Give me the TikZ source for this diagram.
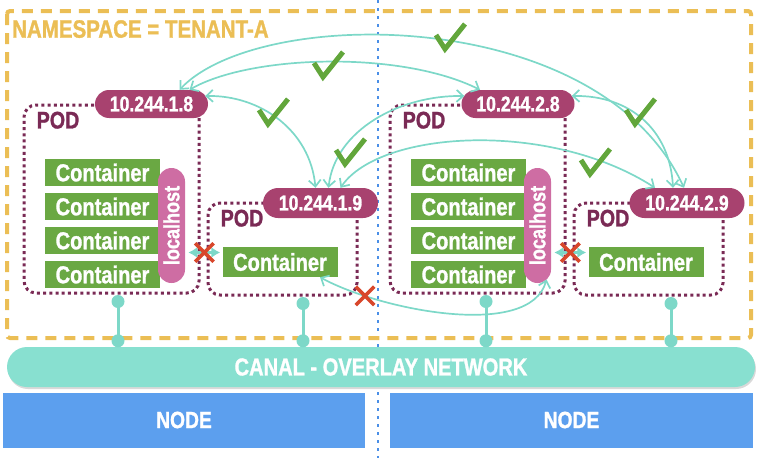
\documentclass[tikz,border=0pt]{standalone}
\usepackage{fontspec}
\setmainfont{Liberation Sans}[FakeStretch=0.82, BoldFeatures={FakeBold=1.2}]
\usetikzlibrary{arrows.meta,shapes.misc,shadows}

\definecolor{nsyellow}{HTML}{EBBE55}
\definecolor{ipplum}{HTML}{A8426F}
\definecolor{podplum}{HTML}{7A2A55}
\definecolor{boxgreen}{HTML}{6AA843}
\definecolor{lhpink}{HTML}{CE6DA3}
\definecolor{canalteal}{HTML}{88E0D0}
\definecolor{arrteal}{HTML}{7DD8C8}
\definecolor{hostblue}{HTML}{5C9FEE}
\definecolor{xred}{HTML}{D8472B}
\definecolor{tickgreen}{HTML}{62A63B}
\definecolor{divblue}{HTML}{4A8FE7}

\newcommand{\bigfont}[1]{\bfseries\fontsize{#1}{#1}\selectfont}

\tikzset{
  ip/.style={rectangle, rounded corners=14pt, fill=ipplum, text=white,
    inner sep=0pt, minimum width=113pt, minimum height=28pt,
    font=\bigfont{21.5}},
  pod/.style={draw=podplum, line width=3pt, dash pattern=on 3pt off 3.2pt,
    rounded corners=12pt, inner sep=0pt},
  podlabel/.style={text=podplum, inner sep=0pt, anchor=north west,
    font=\bigfont{24}},
  ctr/.style={fill=boxgreen, text=white, inner sep=0pt,
    minimum width=115pt, minimum height=27pt, font=\bigfont{24.5}},
  lh/.style={fill=lhpink, text=white, rounded corners=13.5pt, rotate=90,
    inner sep=0pt, minimum width=115pt, minimum height=27pt,
    font=\bigfont{22}},
  host/.style={fill=hostblue, text=white, inner sep=0pt,
    minimum height=55pt, font=\bigfont{23.5}},
  link/.style={draw=arrteal, line width=3pt},
  arc/.style={draw=arrteal, line width=1.7pt,
    {Straight Barb[length=6.5pt,width=12pt]}-{Straight Barb[length=6.5pt,width=12pt]}},
  side/.style={draw=arrteal, line width=3pt,
    {Latex[length=9pt,width=11pt]}-{Latex[length=9pt,width=11pt]}},
  xmark/.style={cross out, draw=xred, line width=3.5pt, minimum size=15pt,
    inner sep=0pt},
  tick/.pic={\draw[tickgreen, line width=5pt] (-14,-2) -- (-5,12) -- (15,-13);}
}

\begin{document}
\begin{tikzpicture}[x=1pt, y=-1pt]
\useasboundingbox (0,0) rectangle (764,458);

% divider between the two nodes
\draw[divblue, line width=2.5pt, dash pattern=on 3pt off 5pt] (378,0) -- (378,458);

% namespace
\draw[nsyellow, line width=4pt, dash pattern=on 11pt off 8pt, rounded corners=3pt]
    (7,11) rectangle (751,338);
\node[text=nsyellow, inner sep=0pt, anchor=north west, font=\bigfont{25}]
    (nstxt) at (12,20) {NAMESPACE = TENANT-A};

% pods
\node[pod, minimum width=175pt, minimum height=188pt] (pod18) at (111.5,199) {};
\node[pod, minimum width=149pt, minimum height=92pt] (pod19) at (282.5,249) {};
\node[pod, minimum width=175pt, minimum height=188pt] (pod28) at (477.5,199) {};
\node[pod, minimum width=149pt, minimum height=92pt] (pod29) at (648.5,249) {};

\foreach \p in {pod18,pod19,pod28,pod29}
    \node[podlabel] (\p-txt) at ([xshift=14pt,yshift=-8pt]\p.north west) {POD};

% containers
\foreach \i/\y in {1/172.5,2/206.5,3/240.5,4/274.5} {
    \node[ctr] (c18\i) at (102.5,\y) {Container};
    \node[ctr] (c28\i) at (468.5,\y) {Container};
}
\node[ctr, minimum height=30pt] (con19) at (280,262) {Container};
\node[ctr, minimum height=30pt] (con29) at (646,262) {Container};

\node[lh] (lh18) at (171.5,225.5) {localhost};
\node[lh] (lh28) at (537.5,225.5) {localhost};

% addresses
\node[ip] (ip18) at (151.5,104) {10.244.1.8};
\node[ip] (ip28) at (518,104) {10.244.2.8};
\node[ip, minimum width=115pt, minimum height=30pt, rounded corners=15pt]
    (ip19) at (320.5,203) {10.244.1.9};
\node[ip, minimum width=115pt, minimum height=30pt, rounded corners=15pt]
    (ip29) at (687,203) {10.244.2.9};

% overlay network and nodes
\node[fill=canalteal, text=white, rounded corners=20pt, inner sep=0pt,
    minimum width=748pt, minimum height=40pt, font=\bigfont{24.5},
    drop shadow={shadow xshift=1pt, shadow yshift=-2pt, opacity=0.3}]
    (canal) at (381,367) {CANAL - OVERLAY NETWORK};
\node[host, minimum width=362pt] (host1) at (184,420) {NODE};
\node[host, minimum width=363pt] (host2) at (571.5,420) {NODE};

% pod links to the overlay
\foreach \p/\dx in {pod18/6.5pt,pod19/20.5pt,pod28/8.5pt,pod29/22.5pt} {
    \coordinate (\p-up) at ([xshift=\dx,yshift=-7pt]\p.south);
    \coordinate (\p-b) at (\p-up |- canal.north);
    \coordinate (\p-dn) at ([yshift=6pt]\p-b);
    \draw[link] (\p-up) -- (\p-dn);
    \fill[arrteal] (\p-up) circle (6.5pt) (\p-dn) circle (6.5pt);
}

% allowed traffic
\draw[arc] ([xshift=28pt]ip18.north) .. controls (260,5) and (600,5)
    .. ([xshift=-3pt]ip29.north);
\draw[arc] ([xshift=38pt]ip18.north) .. controls (250,55) and (400,50)
    .. ([xshift=-38pt]ip28.north);
\draw[arc] ([xshift=-3pt,yshift=8pt]ip18.east) .. controls (260,95) and (310,130)
    .. ([xshift=-5pt]ip19.north);
\draw[arc] ([xshift=3pt,yshift=8pt]ip28.west) .. controls (400,95) and (335,130)
    .. ([xshift=8pt]ip19.north);
\draw[arc] ([xshift=20pt]ip19.north) .. controls (380,130) and (550,120)
    .. ([xshift=-32pt]ip29.north);
\draw[arc] ([xshift=-3pt,yshift=8pt]ip28.east) .. controls (630,95) and (670,130)
    .. ([xshift=-14pt]ip29.north);

\pic at (450,37) {tick};
\pic at (328,65) {tick};
\pic at (273,112) {tick};
\pic at (350,152) {tick};
\pic at (595,162) {tick};
\pic at (640,112) {tick};

% blocked traffic
\draw[side] ([xshift=-34pt,yshift=9.5pt]con19.west) -- ([xshift=-2pt,yshift=9.5pt]con19.west)
    node[midway, xmark] (xa) {};
\draw[side] ([xshift=-34pt,yshift=9.5pt]con29.west) -- ([xshift=-2pt,yshift=9.5pt]con29.west)
    node[midway, xmark] (xb) {};
\draw[arc] ([xshift=40pt]con19.south) .. controls (380,310) and (530,340)
    .. ([xshift=9pt,yshift=-54pt]lh28.center) node[pos=0.2, xmark] (xc) {};

\end{tikzpicture}
\end{document}
